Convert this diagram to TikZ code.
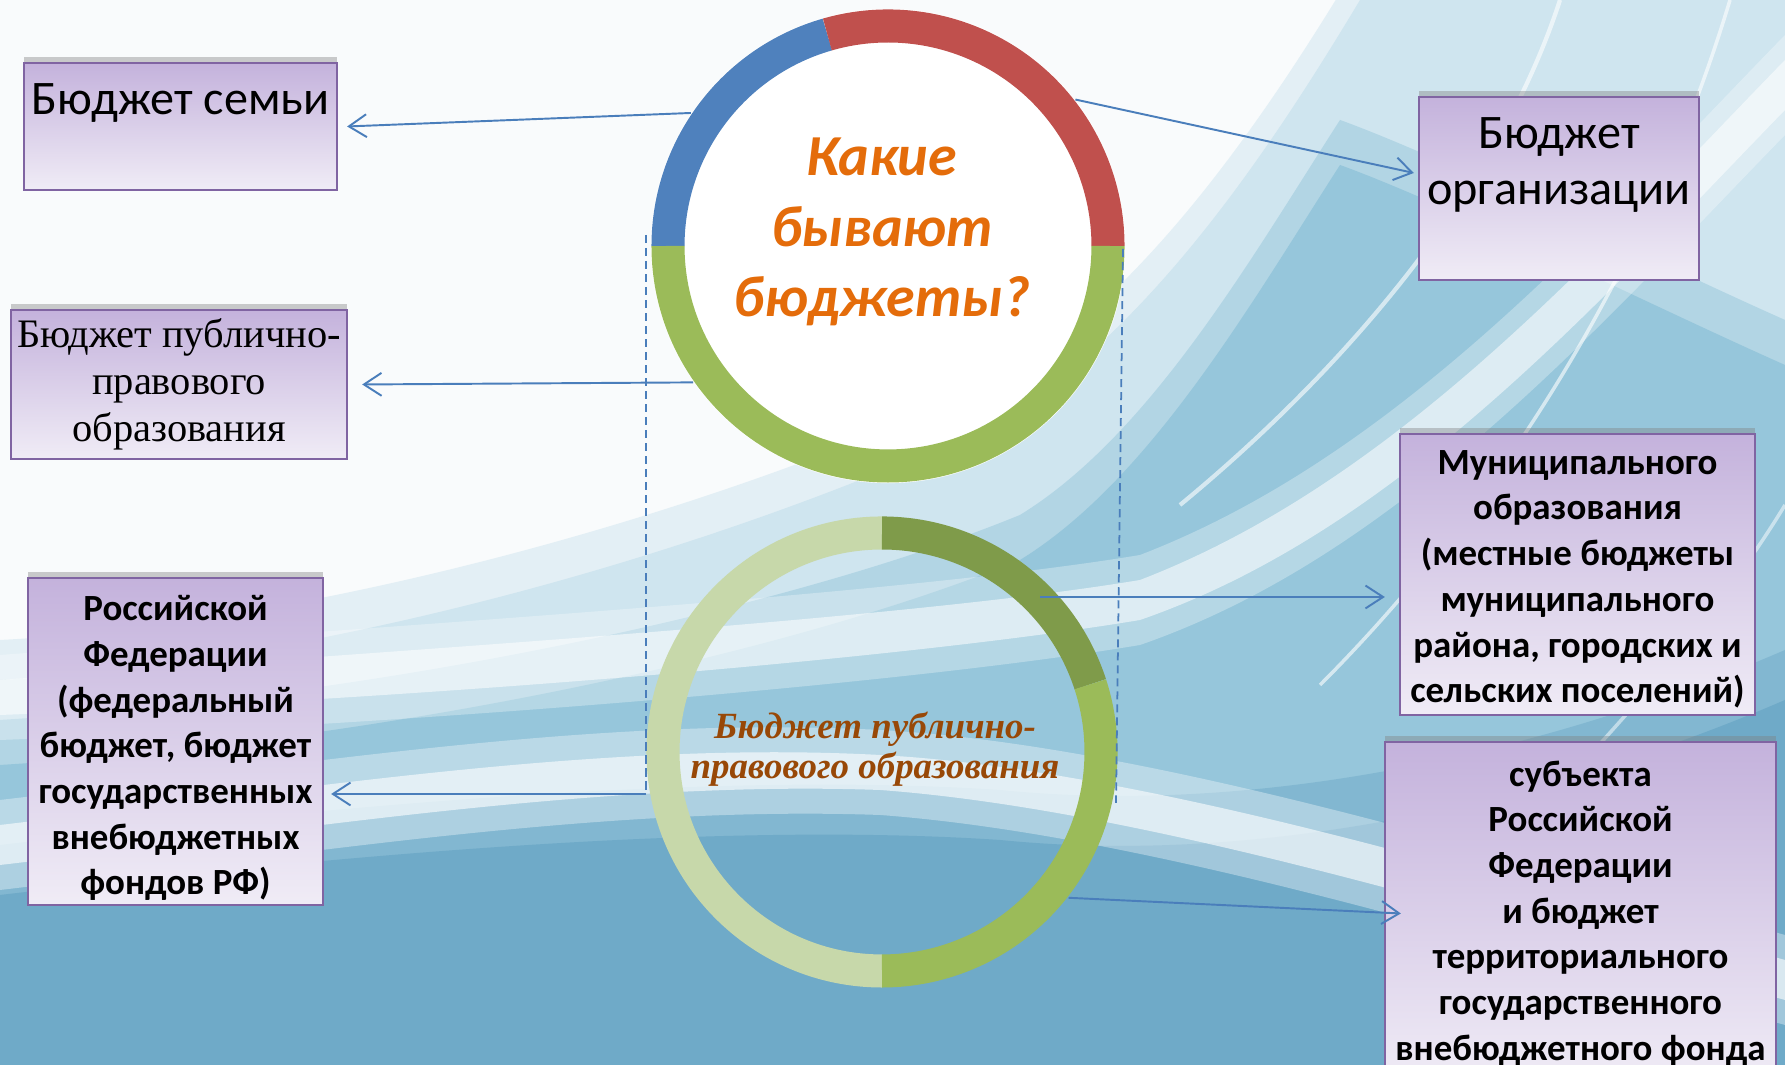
\documentclass[tikz,border=0pt]{standalone}
\usepackage{fontspec}
\setmainfont{Carlito}
\newfontfamily\serifru{Liberation Serif}
\usetikzlibrary{arrows.meta,shadows}

\definecolor{boxedge}{RGB}{128,100,162}
\definecolor{boxtop}{RGB}{196,178,220}
\definecolor{boxbot}{RGB}{240,236,246}
\definecolor{linkblue}{RGB}{74,126,187}
\definecolor{ringblue}{RGB}{79,129,189}
\definecolor{ringred}{RGB}{192,80,77}
\definecolor{ringgreen}{RGB}{155,187,89}
\definecolor{ringdark}{RGB}{127,155,74}
\definecolor{ringlight}{RGB}{199,216,170}
\definecolor{titleorange}{RGB}{228,108,10}
\definecolor{subbrown}{RGB}{152,72,7}
\definecolor{bgbase}{RGB}{249,251,252}
\definecolor{bgpale}{RGB}{207,229,239}
\definecolor{bgmid}{RGB}{150,198,219}
\definecolor{bgdeep}{RGB}{111,170,200}

\tikzset{
  budget/.style={draw=boxedge, line width=0.6pt, top color=boxtop, bottom color=boxbot,
    inner sep=0pt, drop shadow={shadow xshift=0pt, shadow yshift=1.6pt, opacity=0.4}},
  plaintext/.style={font=\fontsize{13.7pt}{15.9pt}\selectfont},
  boldtext/.style={font=\fontsize{10.5pt}{13pt}\selectfont\bfseries, align=center},
  link/.style={linkblue, line width=0.55pt, -{Straight Barb[length=5pt,width=6.5pt]}},
  guide/.style={linkblue, line width=0.5pt, dash pattern=on 2.3pt off 1.4pt},
  ring/.style={line width=9.4pt},
}

\begin{document}
\begin{tikzpicture}[x=0.01cm, y=0.01cm]
\useasboundingbox (0,0) rectangle (1785,1065);
\clip (0,0) rectangle (1785,1065);

% background
\fill[bgbase] (0,0) rectangle (1785,1065);
\fill[bgpale, opacity=.5, yshift=0.4cm] (0,385) .. controls (300,400) and (700,505) .. (1000,645)
  .. controls (1150,735) and (1270,915) .. (1360,1065) -- (1785,1065) -- (1785,0) -- (0,0) -- cycle;
\fill[bgpale] (0,385) .. controls (300,400) and (700,505) .. (1000,645)
  .. controls (1150,735) and (1270,915) .. (1360,1065) -- (1785,1065) -- (1785,0) -- (0,0) -- cycle;
\fill[bgmid, opacity=.5, yshift=0.45cm] (0,300) .. controls (400,325) and (800,415) .. (1020,505)
  .. controls (1150,585) and (1250,760) .. (1340,900) .. controls (1450,860) and (1650,760) .. (1785,700)
  -- (1785,0) -- (0,0) -- cycle;
\fill[bgmid] (0,300) .. controls (400,325) and (800,415) .. (1020,505)
  .. controls (1150,585) and (1250,760) .. (1340,900) .. controls (1450,860) and (1650,760) .. (1785,700)
  -- (1785,0) -- (0,0) -- cycle;
\fill[bgdeep, opacity=.5, yshift=0.5cm] (0,170) .. controls (300,205) and (700,245) .. (1000,225)
  .. controls (1300,195) and (1600,285) .. (1785,365) -- (1785,0) -- (0,0) -- cycle;
\fill[bgdeep] (0,170) .. controls (300,205) and (700,245) .. (1000,225)
  .. controls (1300,195) and (1600,285) .. (1785,365) -- (1785,0) -- (0,0) -- cycle;
\fill[white, opacity=.35] (0,265) .. controls (300,300) and (600,350) .. (880,335)
  .. controls (1150,320) and (1500,210) .. (1785,130) -- (1785,40)
  .. controls (1500,120) and (1150,230) .. (880,250) .. controls (600,260) and (300,210) .. (0,175) -- cycle;
\fill[white, opacity=.6] (0,240) .. controls (300,275) and (600,325) .. (880,310)
  .. controls (1150,295) and (1500,185) .. (1785,105) -- (1785,65)
  .. controls (1500,145) and (1150,255) .. (880,275) .. controls (600,285) and (300,235) .. (0,200) -- cycle;
\fill[white, opacity=.3] (0,410) .. controls (400,440) and (900,470) .. (1140,510)
  .. controls (1400,610) and (1600,840) .. (1785,1030) -- (1785,930)
  .. controls (1600,740) and (1400,510) .. (1140,420) .. controls (900,380) and (400,340) .. (0,325) -- cycle;
\fill[white, opacity=.55] (0,385) .. controls (400,415) and (900,445) .. (1140,485)
  .. controls (1400,585) and (1600,815) .. (1785,1005) -- (1785,955)
  .. controls (1600,765) and (1400,535) .. (1140,445) .. controls (900,405) and (400,365) .. (0,350) -- cycle;
\draw[white, opacity=.6, line width=1.2pt] (1180,560) .. controls (1350,700) and (1500,880) .. (1560,1065);
\draw[white, opacity=.6, line width=1pt] (1320,380) .. controls (1500,560) and (1650,800) .. (1730,1065);
\draw[white, opacity=.5, line width=1pt] (1400,120) .. controls (1550,260) and (1700,420) .. (1785,560);

% circles
\node[circle, minimum size=4.74cm, inner sep=0pt, fill=white] (topring) at (888,819) {};
\draw[ring, ringblue] (topring.center) ++(180:220) arc[start angle=180, end angle=106, radius=220];
\draw[ring, ringred] (topring.center) ++(106:220) arc[start angle=106, end angle=0, radius=220];
\draw[ring, ringgreen] (topring.center) ++(0:220) arc[start angle=0, end angle=-180, radius=220];

\node[circle, minimum size=4.72cm, inner sep=0pt] (botring) at (882,313) {};
\draw[ring, ringlight] (botring.center) ++(90:219) arc[start angle=90, end angle=270, radius=219];
\draw[ring, ringdark] (botring.center) ++(90:219) arc[start angle=90, end angle=18, radius=219];
\draw[ring, ringgreen] (botring.center) ++(18:219) arc[start angle=18, end angle=-90, radius=219];

\node[font=\bfseries\itshape\fontsize{16.5pt}{20pt}\selectfont, text=titleorange, align=center]
  (title) at (882,833) {Какие\\бывают\\бюджеты?};
\node[font=\serifru\bfseries\itshape\fontsize{10.5pt}{11.4pt}\selectfont, text=subbrown, align=center]
  (subtitle) at (875,316) {Бюджет публично-\\правового образования};

% boxes
\node[budget, plaintext, minimum width=3.13cm, minimum height=1.27cm] (famb) at (180.5,938.5)
  {\parbox[c][0.86cm][t]{3.13cm}{\centering Бюджет семьи}};
\node[budget, font=\serifru\fontsize{11.5pt}{13.4pt}\selectfont, align=center,
  minimum width=3.36cm, minimum height=1.49cm] (pubb) at (179,680.5)
  {Бюджет публично-\\правового\\образования};
\node[budget, boldtext, minimum width=2.95cm, minimum height=3.27cm] (rfb) at (175.5,323.5)
  {\rule{0pt}{11pt}Российской\\Федерации\\(федеральный\\бюджет, бюджет\\государственных\\внебюджетных\\фондов РФ)};
\node[budget, plaintext, minimum width=2.8cm, minimum height=1.83cm] (orgb) at (1559,876.5)
  {\parbox[c][1.41cm][t]{2.8cm}{\centering Бюджет\\организации}};
\node[budget, boldtext, minimum width=3.55cm, minimum height=2.81cm] (munb) at (1577.5,490.5)
  {\rule{0pt}{9.6pt}Муниципального\\образования\\(местные бюджеты\\муниципального\\района, городских и\\сельских поселений)};
\node[budget, boldtext, minimum width=3.91cm, minimum height=3.43cm] (subb) at (1580.5,151.5)
  {субъекта\\Российской\\Федерации\\и бюджет\\территориального\\государственного\\внебюджетного фонда};

% guides and links
\coordinate (lguidetop) at (646,830);
\coordinate (lguidefoot) at (646,271);
\coordinate (rguidetop) at (1123,816);
\coordinate (rguidefoot) at (1116,262);
\coordinate (munfoot) at (1040,468);
\draw[guide] (lguidetop) -- (lguidefoot);
\draw[guide] (rguidetop) -- (rguidefoot);

\draw[link] (topring.146.5) -- ([xshift=0.09cm]famb.east);
\draw[link] (topring.215.5) -- ([xshift=0.14cm]pubb.east);
\draw[link] (topring.38.8) -- ([xshift=-0.04cm, yshift=0.155cm]orgb.west);
\draw[link, shorten >=0.07cm] (lguidefoot) -- (lguidefoot -| rfb.east);
\draw[link, shorten >=0.14cm] (munfoot) -- (munfoot -| munb.west);
\draw[link] (botring.-38.2) -- ([xshift=0.17cm]subb.west);
\end{tikzpicture}
\end{document}
